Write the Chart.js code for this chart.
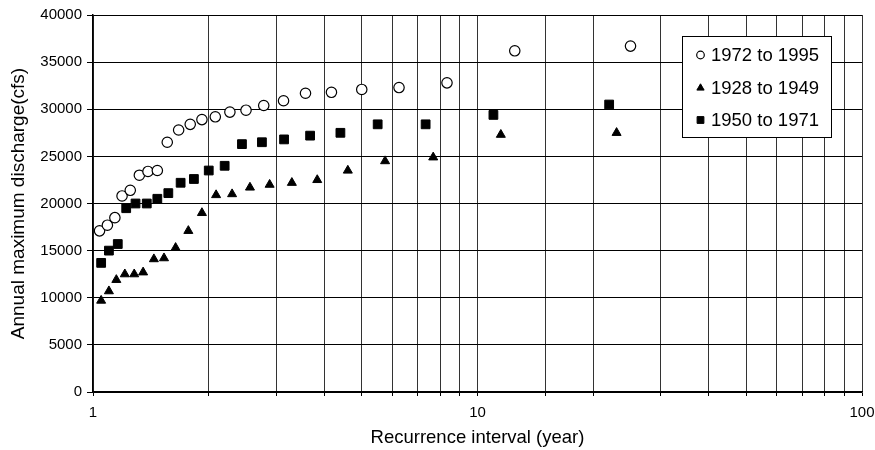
<!DOCTYPE html>
<html>
<head>
<meta charset="utf-8">
<script src="https://cdn.jsdelivr.net/npm/chart.js@4/dist/chart.umd.min.js"></script>
<style>
  html, body { margin: 0; padding: 0; background: #ffffff; }
  #wrap { width: 875px; height: 450px; position: relative; }
</style>
</head>
<body>
<div id="wrap"><canvas id="c" width="875" height="450"></canvas></div>
<script>
// ---- data ----
const seriesNames = ["1972 to 1995", "1928 to 1949", "1950 to 1971"];

const intervals1972 = [1.04, 1.09, 1.14, 1.19, 1.25, 1.32, 1.39, 1.47, 1.56, 1.67, 1.79, 1.92,
                       2.08, 2.27, 2.5, 2.78, 3.13, 3.57, 4.17, 5.0, 6.25, 8.33, 12.5, 25];
const discharge1972 = [17100, 17700, 18500, 20800, 21400, 23000, 23400, 23500, 26500, 27800, 28400, 28900,
                       29200, 29700, 29900, 30400, 30900, 31700, 31800, 32100, 32300, 32800, 36200, 36700];

const intervals1928 = [1.05, 1.10, 1.15, 1.21, 1.28, 1.35, 1.44, 1.53, 1.64, 1.77, 1.92,
                       2.09, 2.3, 2.56, 2.88, 3.29, 3.83, 4.6, 5.75, 7.67, 11.5, 23];
const discharge1928 = [9700, 10700, 11900, 12500, 12500, 12700, 14100, 14200, 15300, 17100, 19000,
                       20900, 21000, 21700, 22000, 22200, 22500, 23500, 24500, 24900, 27300, 27500];

const intervals1950 = [1.05, 1.10, 1.16, 1.22, 1.29, 1.38, 1.47, 1.57, 1.69, 1.83, 2.0,
                       2.2, 2.44, 2.75, 3.14, 3.67, 4.4, 5.5, 7.33, 11, 22];
const discharge1950 = [13700, 15000, 15700, 19500, 20000, 20000, 20500, 21100, 22200, 22600, 23500,
                       24000, 26300, 26500, 26800, 27200, 27500, 28400, 28400, 29400, 30500];

const xTickLabels = [1, 10, 100];
const yTickValues = [0, 5000, 10000, 15000, 20000, 25000, 30000, 35000, 40000];

const xTitle = "Recurrence interval (year)";
const yTitle = "Annual maximum discharge(cfs)";

function toPoints(xs, ys) { return xs.map((x, i) => ({ x: x, y: ys[i] })); }

const FONT = "'Liberation Sans', Arial, sans-serif";

const styles = [
  { pointStyle: 'circle',   radius: 5.2, fill: '#ffffff', border: '#000000', bw: 1.2, legendR: 3.8 },
  { pointStyle: 'triangle', radius: 5.2, fill: '#000000', border: '#000000', bw: 1,   legendR: 4.2 },
  { pointStyle: 'rect',     radius: 6.2, fill: '#000000', border: '#000000', bw: 1,   legendR: 4.8 }
];

const dataSets = [
  toPoints(intervals1972, discharge1972),
  toPoints(intervals1928, discharge1928),
  toPoints(intervals1950, discharge1950)
];

function drawMarker(ctx, style, r, x, y) {
  ctx.save();
  ctx.fillStyle = style.fill;
  ctx.strokeStyle = style.border;
  ctx.lineWidth = style.bw;
  ctx.beginPath();
  if (style.pointStyle === 'circle') {
    ctx.arc(x, y, r, 0, Math.PI * 2);
  } else if (style.pointStyle === 'triangle') {
    const w = r * Math.sin(Math.PI * 2 / 3);
    ctx.moveTo(x, y - r);
    ctx.lineTo(x + w, y + r / 2);
    ctx.lineTo(x - w, y + r / 2);
    ctx.closePath();
  } else {
    const s = r * Math.SQRT1_2;
    ctx.rect(x - s, y - s, 2 * s, 2 * s);
  }
  ctx.fill();
  ctx.stroke();
  ctx.restore();
}

const boxLegend = {
  id: 'boxLegend',
  afterDraw(chart) {
    const ctx = chart.ctx;
    const left = 682, top = 36, right = 831, bottom = 137;
    ctx.save();
    ctx.fillStyle = '#ffffff';
    ctx.fillRect(left, top, right - left, bottom - top);
    ctx.strokeStyle = '#000000';
    ctx.lineWidth = 1;
    ctx.strokeRect(left + 0.5, top + 0.5, right - left, bottom - top);
    const rows = [55, 88, 120];
    ctx.font = "18.5px " + FONT;
    ctx.textBaseline = 'middle';
    ctx.textAlign = 'left';
    chart.data.datasets.forEach((ds, i) => {
      const st = styles[i];
      drawMarker(ctx, st, st.legendR, 700.5, rows[i]);
      ctx.fillStyle = '#000000';
      ctx.fillText(ds.label, 711, rows[i] + 1);
    });
    ctx.restore();
  }
};

new Chart(document.getElementById('c'), {
  type: 'scatter',
  data: {
    datasets: dataSets.map((pts, i) => ({
      label: seriesNames[i],
      data: pts,
      pointStyle: styles[i].pointStyle,
      pointRadius: styles[i].radius,
      pointHoverRadius: styles[i].radius,
      pointBackgroundColor: styles[i].fill,
      pointBorderColor: styles[i].border,
      pointBorderWidth: styles[i].bw,
      showLine: false
    }))
  },
  options: {
    responsive: false,
    animation: false,
    devicePixelRatio: 1,
    layout: { padding: { top: 15, right: 13, left: 0, bottom: 0 } },
    plugins: {
      legend: { display: false },
      tooltip: { enabled: false }
    },
    scales: {
      x: {
        type: 'logarithmic',
        min: 1,
        max: 100,
        afterFit(scale) { scale.height = 58; scale.paddingLeft = 0; scale.paddingRight = 0; },
        border: { display: true, color: '#000000', width: 1.5 },
        grid: { color: '#333333', lineWidth: 1, drawTicks: true, tickLength: 4, tickColor: '#000000' },
        ticks: {
          autoSkip: false,
          maxRotation: 0,
          padding: 8,
          color: '#000000',
          font: { family: FONT, size: 15 },
          callback: (value) => xTickLabels.includes(Number(value)) ? String(value) : ''
        },
        title: {
          display: true,
          text: xTitle,
          color: '#000000',
          font: { family: FONT, size: 18.5 },
          padding: { top: 0, bottom: 1 }
        }
      },
      y: {
        type: 'linear',
        min: 0,
        max: 40000,
        afterFit(scale) { scale.width = 93; scale.paddingTop = 0; scale.paddingBottom = 0; },
        afterBuildTicks(scale) { scale.ticks = yTickValues.map(v => ({ value: v })); },
        border: { display: true, color: '#000000', width: 1.5 },
        grid: { color: '#000000', lineWidth: 1, drawTicks: true, tickLength: 6, tickColor: '#000000' },
        ticks: {
          padding: 5,
          color: '#000000',
          font: { family: FONT, size: 15 },
          callback: (value) => String(value)
        },
        title: {
          display: true,
          text: yTitle,
          color: '#000000',
          font: { family: FONT, size: 19 },
          padding: { top: 7, bottom: 0 }
        }
      }
    }
  },
  plugins: [boxLegend]
});
</script>
</body>
</html>
